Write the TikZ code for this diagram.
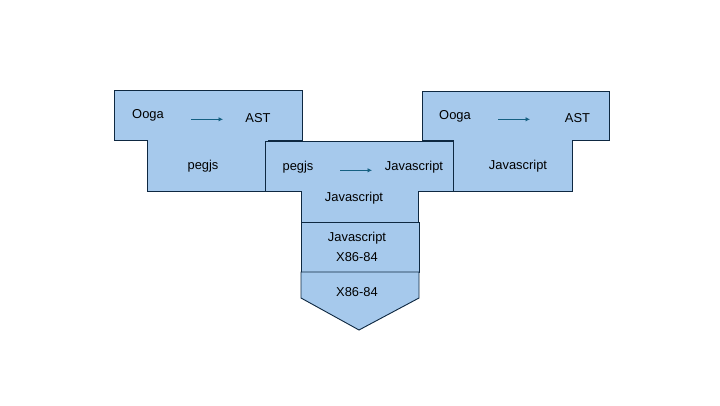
\documentclass[tikz,border=0pt]{standalone}
\usepackage{fontspec}
\setmainfont{Liberation Sans}
\usetikzlibrary{arrows.meta}
\definecolor{tombfill}{HTML}{A6C9EC}
\definecolor{tombline}{HTML}{0E2841}
\definecolor{arrowcol}{HTML}{156082}
\begin{document}
\begin{tikzpicture}[x=1pt,y=-1pt,font=\fontsize{12.9}{15}\selectfont,
    tomb/.style={fill=tombfill,draw=tombline,line width=0.9pt,line join=miter},
    lbl/.style={inner sep=0pt,text=black,anchor=base},
    flow/.style={arrowcol,line width=0.8pt,-{Latex[length=4.5pt,width=4.5pt]}}]
  \useasboundingbox (0,0) rectangle (720,405);
  % left T: Ooga -> AST in pegjs
  \draw[tomb] (114,90)--(302,90)--(302,140)--(268,140)--(268,191)--(147,191)--(147,140)--(114,140)--cycle;
  % middle T: pegjs -> Javascript in Javascript
  \draw[tomb] (265,141)--(454,141)--(454,191)--(418,191)--(418,222)--(301,222)--(301,191)--(265,191)--cycle;
  % right T: Ooga -> AST in Javascript
  \draw[tomb] (422,91)--(609,91)--(609,140)--(572,140)--(572,191)--(453,191)--(453,140)--(422,140)--cycle;
  % interpreter and machine
  \draw[tomb] (301,222) rectangle (419,272);
  \draw[tomb] (301,272)--(419,272)--(419,298)--(359,330)--(301,298)--cycle;
  \node[lbl] (ooga1) at (148,118.5) {Ooga};
  \node[lbl] (ast1) at (258,122.5) {AST};
  \node[lbl] (pegjs1) at (203,169) {pegjs};
  \node[lbl] (pegjs2) at (298,170.5) {pegjs};
  \node[lbl] (js1) at (414,170) {Javascript};
  \node[lbl] (js2) at (354,201.5) {Javascript};
  \node[lbl] (js3) at (357,241) {Javascript};
  \node[lbl] (x86a) at (357,261) {X86-84};
  \node[lbl] (x86b) at (357,296.5) {X86-84};
  \node[lbl] (ooga2) at (455,119.3) {Ooga};
  \node[lbl] (ast2) at (577.5,122.3) {AST};
  \node[lbl] (js4) at (518,169) {Javascript};
  \coordinate (a1s) at (191,119.3);
  \coordinate (a1e) at (223,119.3);
  \coordinate (a2s) at (340,170.3);
  \coordinate (a2e) at (372,170.3);
  \coordinate (a3s) at (498,119.3);
  \coordinate (a3e) at (530,119.3);
  \draw[flow] (a1s) -- (a1e);
  \draw[flow] (a2s) -- (a2e);
  \draw[flow] (a3s) -- (a3e);
\end{tikzpicture}
\end{document}
